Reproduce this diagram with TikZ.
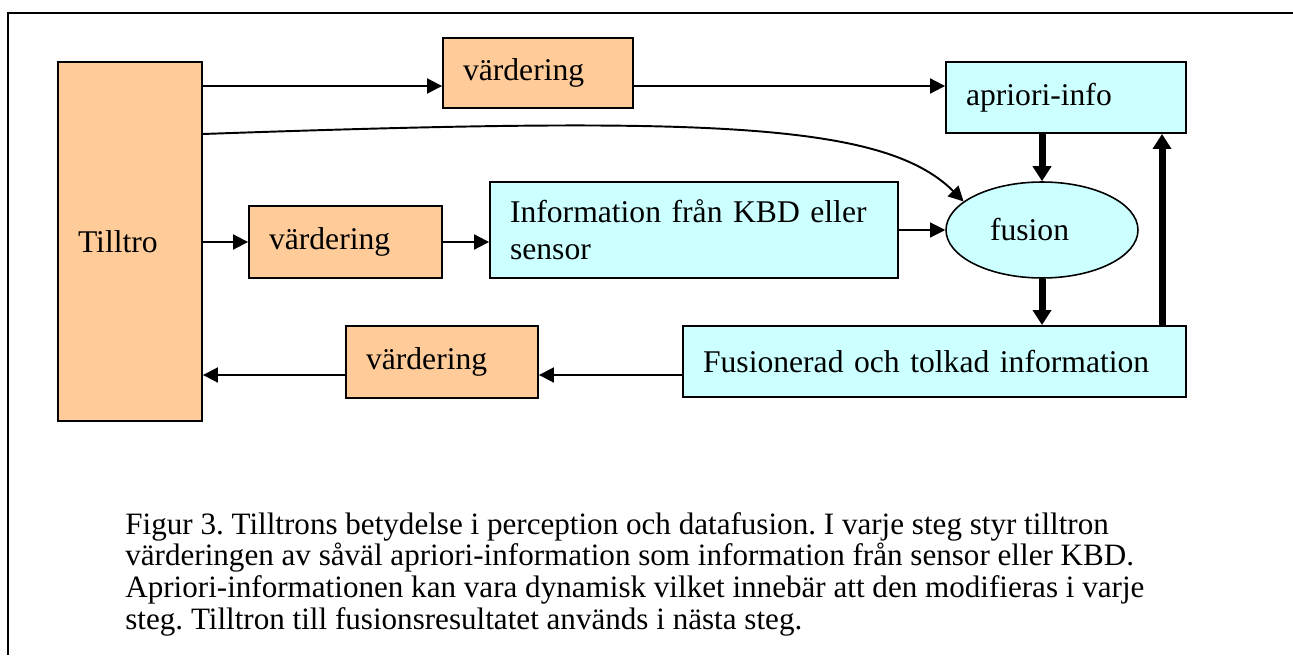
\documentclass[tikz,border=0pt]{standalone}
\usepackage{fontspec}
\setmainfont{Liberation Serif}
\usetikzlibrary{arrows.meta,shapes.geometric}
\definecolor{peach}{HTML}{FFCC99}
\definecolor{paleblue}{HTML}{CCFFFF}
\frenchspacing

\begin{document}
\begin{tikzpicture}[x=0.02cm, y=-0.02cm,
  box/.style={draw, line width=1.1pt, inner xsep=0.4cm, inner ysep=0pt, align=left, font=\fontsize{18}{21}\selectfont},
  warm/.style={box, fill=peach},
  cool/.style={box, fill=paleblue},
  arr/.style={line width=1.1pt, -{Triangle[length=0.3cm,width=0.3cm]}},
  bigarr/.style={line width=4pt, -{Triangle[length=0.3cm,width=0.36cm]}}]
\useasboundingbox (0,0) rectangle (1293,655);
\draw [line width=1.1pt] (1293,13) -- (8,13) -- (8,655);

% boxes
\node [warm, text width=2.08cm, minimum height=7.18cm] (tilltro) at (130,241.5) {Tilltro};
\node [warm, text width=3.0cm, minimum height=1.4cm] (vard1) at (538,73) {värdering};
\node [cool, text width=4.0cm, minimum height=1.42cm] (apriori) at (1066,97.5) {apriori-info};
\node [warm, text width=3.06cm, minimum height=1.44cm] (vard2) at (345.5,242) {värdering};
\node [cool, text width=7.36cm, minimum height=1.92cm] (info) at (694,230) {Information från KBD eller\\sensor};
\node [draw, ellipse, fill=paleblue, line width=0.9pt, minimum width=3.84cm, minimum height=1.92cm, inner sep=0pt, text width=2.08cm, align=left, font=\fontsize{18}{21}\selectfont] (fusion) at (1042,230) {fusion};
\node [cool, text width=9.26cm, minimum height=1.42cm] (fused) at (934.5,361.5) {Fusionerad och tolkad information};
\node [warm, text width=3.04cm, minimum height=1.44cm] (vard3) at (442,362) {värdering};

% rows and columns for the arrows
\coordinate (row1) at (0,86);
\coordinate (bend) at (0,134);
\coordinate (row3) at (0,375);
\coordinate (col) at (1162,0);

\draw [arr] (tilltro.east |- row1) -- (vard1.west |- row1);
\draw [arr] (vard1.east |- row1) -- (apriori.west |- row1);
\draw [arr] (tilltro.east |- bend) .. controls +(10cm,0.35cm) and +(-1.6cm,1.6cm) .. (fusion.160);
\draw [arr] (tilltro.east |- vard2.west) -- (vard2.west);
\draw [arr] (vard2.east) -- (info.west |- vard2.east);
\draw [line width=0.6pt, -{Triangle[length=0.3cm,width=0.3cm]}] (info.east) -- (fusion.west);
\draw [bigarr] (fusion.north |- apriori.south) -- (fusion.north);
\draw [bigarr] (fusion.south) -- (fusion.south |- fused.north);
\draw [bigarr] (col |- fused.north) -- (col |- apriori.south);
\draw [arr] (fused.west |- row3) -- (vard3.east |- row3);
\draw [arr] (vard3.west |- row3) -- (tilltro.east |- row3);

% caption
\node [anchor=north west, align=left, inner sep=0pt, font=\fontsize{17.7}{18}\selectfont] (caption) at (125,512)
  {Figur 3. Tilltrons betydelse i perception och datafusion. I varje steg styr tilltron\\
   värderingen av såväl apriori-information som information från sensor eller KBD.\\
   Apriori-informationen kan vara dynamisk vilket innebär att den modifieras i varje\\
   steg. Tilltron till fusionsresultatet används i nästa steg.};
\end{tikzpicture}
\end{document}
